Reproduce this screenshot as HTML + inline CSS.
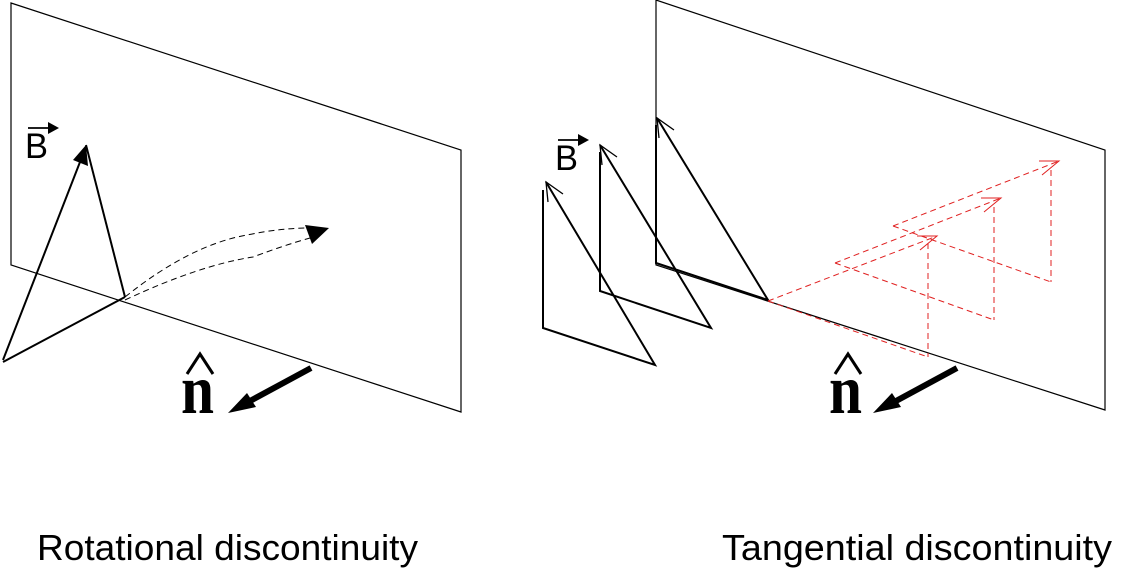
<!DOCTYPE html>
<html><head><meta charset="utf-8"><style>html,body{margin:0;padding:0;background:#fff}svg{display:block}</style></head>
<body>
<svg width="1125" height="575" viewBox="0 0 1125 575" xmlns="http://www.w3.org/2000/svg">
<g fill="none" stroke="#000" stroke-width="1.2">
<polygon points="11,3 461,150 461,412 11,265"/>
<polygon points="656,0 1105,150 1105,410 656,265"/>
</g>
<g fill="none" stroke="#000" stroke-width="2">
<line x1="3" y1="360" x2="80" y2="162"/>
<line x1="86" y1="145" x2="125" y2="297"/>
<line x1="3" y1="362" x2="125" y2="297"/>
</g>
<polygon points="86,145 73,160 88,166" fill="#000"/>
<g fill="none" stroke="#000" stroke-width="1" stroke-dasharray="6,4">
<path d="M125,297 Q190,245 247,235 Q280,228 310,228"/>
<path d="M125,300 Q200,265 253,257 Q285,245 310,238"/>
</g>
<polygon points="329,228 305,225 312,244" fill="#000"/>
<g font-family="Liberation Sans, sans-serif" font-size="35" fill="#000">
<text x="25" y="158" textLength="23" lengthAdjust="spacingAndGlyphs">B</text>
<text x="555" y="170" textLength="23" lengthAdjust="spacingAndGlyphs">B</text>
</g>
<g stroke="#000" stroke-width="1.8"><line x1="28" y1="128" x2="50" y2="128"/><line x1="558" y1="140" x2="580" y2="140"/></g>
<polygon points="59,128 48,122 48,134" fill="#000"/>
<polygon points="589,140 578,134 578,146" fill="#000"/>
<g font-family="Liberation Serif, serif" font-weight="bold" font-size="70" fill="#000">
<text x="181" y="413" textLength="33" lengthAdjust="spacingAndGlyphs">n</text>
<text x="829" y="413" textLength="33" lengthAdjust="spacingAndGlyphs">n</text>
</g>
<g fill="none" stroke="#000" stroke-width="3">
<polyline points="187,374 200,354 213,374"/>
<polyline points="835,374 848,354 861,374"/>
</g>
<g stroke="#000" stroke-width="6"><line x1="311" y1="368" x2="250" y2="401"/><line x1="957" y1="368" x2="896" y2="401"/></g>
<polygon points="228,413 247,393 256,407" fill="#000"/>
<polygon points="873,413 892,393 901,407" fill="#000"/>
<g fill="none" stroke="#000" stroke-width="2">
<polyline points="546,182 655,365 543,328 543,190"/>
<polyline points="600,145 711,328 600,291 600,152"/>
<polyline points="657,118 768,300 656,263 656,125"/>
</g>
<g fill="none" stroke="#000" stroke-width="1.3">
<polyline points="548,202 546,182 563,194"/>
<polyline points="602,165 600,145 617,157"/>
<polyline points="659,138 657,118 674,130"/>
</g>
<g fill="none" stroke="#e02020" stroke-width="1" stroke-dasharray="6,4">
<line x1="768" y1="301" x2="937" y2="236"/>
<line x1="835" y1="263" x2="1001" y2="198"/>
<line x1="893" y1="226" x2="1059" y2="161"/>
<line x1="768" y1="301" x2="928" y2="357"/>
<line x1="835" y1="263" x2="994" y2="320"/>
<line x1="893" y1="226" x2="1051" y2="282"/>
<line x1="928" y1="243" x2="928" y2="357"/>
<line x1="994" y1="207" x2="994" y2="320"/>
<line x1="1051" y1="170" x2="1051" y2="282"/>
</g>
<g fill="none" stroke="#e02020" stroke-width="1">
<polyline points="917,236 937,236 920,250"/>
<polyline points="981,198 1001,198 984,212"/>
<polyline points="1039,161 1059,161 1042,175"/>
</g>
<g font-family="Liberation Sans, sans-serif" font-size="36" fill="#000">
<text x="37" y="560" textLength="381" lengthAdjust="spacingAndGlyphs">Rotational discontinuity</text>
<text x="722" y="560" textLength="390" lengthAdjust="spacingAndGlyphs">Tangential discontinuity</text>
</g>
</svg>
</body></html>
